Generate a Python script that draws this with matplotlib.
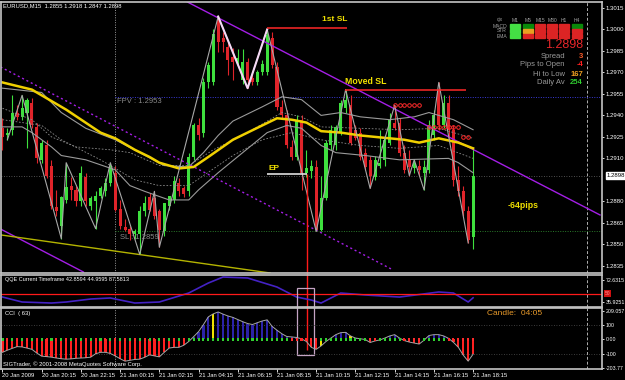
import matplotlib
matplotlib.use("Agg")
import matplotlib.pyplot as plt
from matplotlib.patches import Rectangle

# ── Candles: EURUSD M15, one bar every 15 min ────────────────────────────────
OPEN = [1.2931, 1.2926, 1.2930, 1.2942, 1.2939, 1.2942, 1.2949, 1.2932, 1.2909, 1.2919,
        1.2905, 1.2876, 1.2863, 1.2881, 1.2891, 1.2888, 1.2880, 1.2897, 1.2877, 1.2880,
        1.2884, 1.2887, 1.2893, 1.2900, 1.2875, 1.2862, 1.2861, 1.2857, 1.2857, 1.2873,
        1.2883, 1.2882, 1.2873, 1.2859, 1.2877, 1.2881, 1.2893, 1.2889, 1.2887, 1.2911,
        1.2933, 1.2928, 1.2963, 1.2963, 1.3007, 1.2994, 1.2988, 1.2981, 1.2977, 1.2965,
        1.2977, 1.2966, 1.2963, 1.2970, 1.2970, 1.2994, 1.2974, 1.2946, 1.2940, 1.2918,
        1.2911, 1.2937, 1.2900, 1.2901, 1.2904, 1.2860, 1.2882, 1.2919, 1.2919, 1.2928,
        1.2945, 1.2947, 1.2930, 1.2928, 1.2914, 1.2909, 1.2897, 1.2905, 1.2909, 1.2921,
        1.2935, 1.2935, 1.2914, 1.2909, 1.2903, 1.2905, 1.2900, 1.2902, 1.2926, 1.2958,
        1.2933, 1.2949, 1.2930, 1.2895, 1.2887, 1.2873, 1.2855]
HIGH = [1.2938, 1.2931, 1.2954, 1.2947, 1.2954, 1.2952, 1.2952, 1.2935, 1.2923, 1.2923,
        1.2909, 1.2888, 1.2884, 1.2907, 1.2897, 1.2891, 1.2905, 1.2900, 1.2884, 1.2887,
        1.2891, 1.2896, 1.2907, 1.2905, 1.2881, 1.2868, 1.2863, 1.2861, 1.2877, 1.2884,
        1.2886, 1.2887, 1.2875, 1.2861, 1.2884, 1.2898, 1.2896, 1.2891, 1.2914, 1.2935,
        1.2938, 1.2966, 1.2977, 1.3000, 1.3009, 1.2998, 1.2991, 1.2987, 1.2986, 1.2986,
        1.2980, 1.2969, 1.2972, 1.2979, 1.3000, 1.2998, 1.2977, 1.2951, 1.2944, 1.2923,
        1.2940, 1.2940, 1.2916, 1.2909, 1.2909, 1.2898, 1.2923, 1.2933, 1.2933, 1.2951,
        1.2958, 1.2954, 1.2933, 1.2931, 1.2917, 1.2912, 1.2912, 1.2930, 1.2926, 1.2942,
        1.2947, 1.2938, 1.2919, 1.2916, 1.2909, 1.2909, 1.2909, 1.2937, 1.2944, 1.2963,
        1.2954, 1.2954, 1.2933, 1.2905, 1.2891, 1.2877, 1.2918]
LOW = [1.2916, 1.2923, 1.2926, 1.2937, 1.2937, 1.2917, 1.2931, 1.2907, 1.2907, 1.2896,
       1.2875, 1.2870, 1.2854, 1.2879, 1.2881, 1.2877, 1.2877, 1.2877, 1.2874, 1.2861,
       1.2882, 1.2884, 1.2891, 1.2873, 1.2861, 1.2859, 1.2853, 1.2854, 1.2843, 1.2870,
       1.2873, 1.2868, 1.2848, 1.2856, 1.2874, 1.2879, 1.2884, 1.2883, 1.2884, 1.2909,
       1.2923, 1.2925, 1.2959, 1.2961, 1.2984, 1.2984, 1.2968, 1.2965, 1.2975, 1.2962,
       1.2959, 1.2961, 1.2961, 1.2968, 1.2968, 1.2973, 1.2944, 1.2938, 1.2917, 1.2909,
       1.2909, 1.2888, 1.2897, 1.2896, 1.2859, 1.2859, 1.2881, 1.2916, 1.2916, 1.2926,
       1.2942, 1.2919, 1.2923, 1.2909, 1.2902, 1.2889, 1.2895, 1.2903, 1.2905, 1.2919,
       1.2930, 1.2912, 1.2900, 1.2898, 1.2900, 1.2898, 1.2888, 1.2900, 1.2923, 1.2930,
       1.2931, 1.2923, 1.2891, 1.2884, 1.2870, 1.2851, 1.2847]
CLOSE = [1.2925, 1.2928, 1.2942, 1.2939, 1.2945, 1.2951, 1.2933, 1.2910, 1.2921, 1.2898,
         1.2877, 1.2873, 1.2883, 1.2890, 1.2888, 1.2880, 1.2900, 1.2880, 1.2882, 1.2884,
         1.2889, 1.2893, 1.2905, 1.2874, 1.2863, 1.2860, 1.2857, 1.2859, 1.2873, 1.2879,
         1.2874, 1.2870, 1.2860, 1.2879, 1.2884, 1.2894, 1.2887, 1.2885, 1.2911, 1.2933,
         1.2926, 1.2963, 1.2975, 1.2997, 1.2991, 1.2991, 1.2979, 1.2977, 1.2980, 1.2977,
         1.2965, 1.2963, 1.2970, 1.2976, 1.2996, 1.2975, 1.2946, 1.2940, 1.2919, 1.2911,
         1.2937, 1.2900, 1.2903, 1.2905, 1.2860, 1.2882, 1.2921, 1.2930, 1.2932, 1.2949,
         1.2951, 1.2921, 1.2924, 1.2911, 1.2904, 1.2898, 1.2909, 1.2907, 1.2923, 1.2937,
         1.2931, 1.2914, 1.2902, 1.2904, 1.2907, 1.2902, 1.2904, 1.2933, 1.2940, 1.2933,
         1.2949, 1.2930, 1.2895, 1.2887, 1.2873, 1.2853, 1.2898]

TIME_TICKS = [0, 8, 16, 24, 32, 40, 48, 56, 64, 72, 80, 88, 96]
TIME_LABELS = ["20 Jan 2009", "20 Jan 20:15", "20 Jan 22:15", "21 Jan 00:15",
               "21 Jan 02:15", "21 Jan 04:15", "21 Jan 06:15", "21 Jan 08:15",
               "21 Jan 10:15", "21 Jan 12:15", "21 Jan 14:15", "21 Jan 16:15",
               "21 Jan 18:15"]
PRICE_TICKS = [1.3015, 1.3000, 1.2985, 1.2970, 1.2955, 1.2940, 1.2925, 1.2910,
               1.2880, 1.2865, 1.2850, 1.2835]
BID = 1.2898

# ── Indicator lines (read at a few bars) ─────────────────────────────────────
MA_BAR = [0, 6, 8, 13, 20, 23, 27, 30, 32, 36, 39, 42, 47, 53, 56, 59, 62, 65, 69,
          73, 79, 82, 85, 89, 93, 96]
MA_VAL = [1.2963, 1.2958, 1.2954, 1.2944, 1.2928, 1.2924, 1.2916, 1.2911, 1.2907,
          1.2903, 1.2904, 1.2911, 1.2923, 1.2933, 1.2938, 1.2937, 1.2935, 1.2929,
          1.2928, 1.2926, 1.2924, 1.2923, 1.2921, 1.2924, 1.2921, 1.2917]
UP_BAR = [0, 8, 12, 17, 23, 28, 33, 38, 41, 44, 47, 53, 57, 61, 65, 69, 73, 79, 84,
          87, 92, 96]
UP_VAL = [1.2959, 1.2956, 1.2942, 1.2931, 1.2923, 1.2914, 1.2905, 1.2904, 1.2914,
          1.2926, 1.2936, 1.2946, 1.2953, 1.2951, 1.2940, 1.2942, 1.2939, 1.2937,
          1.2939, 1.2942, 1.2937, 1.2930]
LO_BAR = [0, 4, 6, 10, 12, 17, 23, 26, 29, 34, 38, 40, 44, 49, 54, 58, 61, 65, 68,
          74, 81, 91, 93, 96]
LO_VAL = [1.2932, 1.2932, 1.2928, 1.2918, 1.2912, 1.2909, 1.2902, 1.2891, 1.2887,
          1.2881, 1.2881, 1.2888, 1.2900, 1.2914, 1.2928, 1.2933, 1.2931, 1.2919,
          1.2914, 1.2912, 1.2909, 1.2910, 1.2907, 1.2900]
MID1_BAR = [0, 6, 10, 15, 22, 26, 32, 38, 43, 49, 52, 57, 61, 65, 73, 81, 89, 96]
MID1_VAL = [1.2945, 1.2937, 1.2925, 1.2918, 1.2916, 1.2914, 1.2905, 1.2905, 1.2916,
            1.2926, 1.2932, 1.2942, 1.2939, 1.2932, 1.2931, 1.2930, 1.2931, 1.2924]
MID2_BAR = [0, 8, 12, 20, 27, 32, 38, 41, 47, 53, 59, 65, 73, 81, 89, 96]
MID2_VAL = [1.2937, 1.2933, 1.2923, 1.2909, 1.2895, 1.2891, 1.2891, 1.2898, 1.2912,
            1.2923, 1.2928, 1.2923, 1.2919, 1.2917, 1.2919, 1.2910]
ZZ_BAR = [1, 4, 12, 13, 19, 22, 28, 31, 32, 44, 50, 54, 64, 70, 75, 80, 83, 84, 86,
          89, 95]
ZZ_VAL = [1.2923, 1.2954, 1.2854, 1.2907, 1.2861, 1.2907, 1.2843, 1.2887, 1.2848,
          1.3009, 1.2959, 1.3000, 1.2859, 1.2958, 1.2889, 1.2947, 1.2898, 1.2909,
          1.2888, 1.2963, 1.2851]
M_BAR = [44, 50, 54]
M_VAL = [1.3009, 1.2959, 1.3000]

# trend lines (anchor bar, anchor price)
TL_MAIN = ([37.7, 121.9], [1.30192, 1.28705])
TL_DOT = ([-0.4, 79.7], [1.29738, 1.28321])
TL_LOW = ([-0.4, 16.5], [1.28607, 1.28307])
TL_OLIVE = ([-0.4, 54.6], [1.28566, 1.28300])

FIRST_SL = (1.3001, 54, 70.3)
MOVED_SL = (1.2958, 69.9, 94.6)
EP = (1.2899, 54, 62.2)
FPV = 1.2953
SL = 1.2859
SEP_BAR = 23.0
FUTURE_BAR = 119.2

RING_BAR = [80, 81, 82, 83, 84, 85, 87, 88, 89, 90, 91, 92, 93, 94, 95]
RING_VAL = [1.2947] * 6 + [1.2932] * 7 + [1.2925] * 2

# ── QQE and CCI ──────────────────────────────────────────────────────────────
QQE_BAR = [0, 4, 10, 13, 18, 22, 27, 32, 38, 42, 45, 50, 56, 60, 63, 65, 69, 74, 81,
           89, 92, 95, 96]
QQE_VAL = [44.2, 35.9, 34.2, 35.9, 40.9, 42.6, 34.2, 35.9, 50.9, 67.6, 77.6, 76.0,
           60.9, 44.2, 39.2, 34.2, 50.9, 47.6, 44.2, 52.6, 50.9, 35.9, 42.9]
CCI = [-90, -75, -62, -50, -52, -60, -69, -95, -117, -120,
       -124, -130, -135, -138, -136, -132, -130, -128, -124, -100,
       -90, -90, -98, -115, -135, -152, -146, -140, -138, -125,
       -108, -115, -122, -90, -60, -55, -55, -40, -14, 20,
       55, 105, 159, 180, 193, 178, 165, 155, 140, 125,
       112, 105, 118, 130, 138, 92, 65, 40, 21, 18,
       14, 5, -14, -55, -69, -45, -14, 10, 34, 48,
       50, 25, 10, 5, 0, -21, -10, -3, 10, 25,
       34, 10, -8, -18, -25, -32, -5, 28, 34, 34,
       25, 8, -20, -55, -110, -152, -103]
CCI_FLAG = [43, 65, 71, 86]
ZERO_DOTS = ("GRGRGRGRGRGRGRGRGRGRGRGRGRGRGRGRGRGRGR" + "GGGGGGGGGGGGGGGGGGGGG"
             + "RRRRRR" + "GGGGGGGGGG" + "RR" + "GGGGG" + "RRRR" + "GGGGG" + "RRRRRR")

# ── Info panel ───────────────────────────────────────────────────────────────
TF_COLS = ["M1", "M5", "M15", "M30", "H1", "H4"]
SIG_ROWS = ["MACD", "STR", "EMA"]
SIG_STATE = [["L", "D", "R", "R", "R", "D"],
             ["L", "O", "R", "R", "R", "R"],
             ["L", "R", "R", "R", "R", "R"]]
STATS = [("Spread", "3", "#ff5a28"), ("Pips to Open", "-4", "#ff2020"),
         ("Hi to Low", "167", "#f0a020"), ("Daily Av", "254", "#30d030")]

# ── Figure ───────────────────────────────────────────────────────────────────
W, H = 625, 380
plt.rcParams["font.family"] = ["Liberation Sans", "DejaVu Sans"]
GREEN, RED = "#3ee03e", "#e0242a"
PURPLE = "#a41ee6"

fig = plt.figure(figsize=(W / 100, H / 100), dpi=100, facecolor="black")


def panel(top, bottom, face="black"):
    ax = fig.add_axes([1 / W, 1 - bottom / H, 601 / W, (bottom - top) / H])
    ax.set_facecolor(face)
    for s in ax.spines.values():
        s.set_color("#c4c4c4")
        s.set_linewidth(1.2)
        s.set_zorder(10)
    ax.set_xlim(-0.3, 122.3)
    ax.set_xticks([])
    ax.yaxis.tick_right()
    ax.tick_params(axis="y", colors="white", labelsize=4.3, length=1.5,
                   width=0.6, pad=1.2)
    return ax


# main price panel
ax = panel(1.5, 273)
ax.set_ylim(1.28300, 1.30195)
n = len(OPEN)
xs = list(range(n))
cols = [GREEN if c >= o else RED for o, c in zip(OPEN, CLOSE)]
ax.vlines(xs, LOW, HIGH, colors=cols, lw=0.8, zorder=3)
bodies = [max(abs(c - o), 0.00008) for o, c in zip(OPEN, CLOSE)]
ax.bar(xs, bodies, bottom=[min(o, c) for o, c in zip(OPEN, CLOSE)],
       width=0.62, color=cols, lw=0, zorder=3)

ax.plot(UP_BAR, UP_VAL, color="#9a9a9a", lw=0.8, zorder=4)
ax.plot(LO_BAR, LO_VAL, color="#9a9a9a", lw=0.8, zorder=4)
ax.plot(MID1_BAR, MID1_VAL, color="#8a8a8a", lw=0.6, ls=(0, (2, 2)), zorder=4)
ax.plot(MID2_BAR, MID2_VAL, color="#8a8a8a", lw=0.6, ls=(0, (2, 2)), zorder=4)
ax.plot(MA_BAR, MA_VAL, color="#f0d000", lw=1.8, zorder=5)
ax.plot(ZZ_BAR, ZZ_VAL, color="#a8a8a8", lw=0.8, zorder=5)
ax.plot(M_BAR, M_VAL, color="#f4d8f4", lw=1.5, zorder=6)

ax.plot(*TL_MAIN, color=PURPLE, lw=1.0, zorder=4)
ax.plot(*TL_DOT, color=PURPLE, lw=1.0, ls=(0, (1.5, 2)), zorder=4)
ax.plot(*TL_LOW, color=PURPLE, lw=1.0, zorder=4)
ax.plot(*TL_OLIVE, color="#b4b400", lw=1.0, zorder=4)

ax.axhline(BID, color="#6a6a6a", lw=0.6, ls=(0, (1, 2)), zorder=2)
ax.hlines(FPV, SEP_BAR, 122.3, color="#3a3ad8", lw=0.7, ls=(0, (1, 1.5)), zorder=2)
ax.hlines(SL, SEP_BAR, 122.3, color="#2a7a2a", lw=0.7, ls=(0, (1, 1.5)), zorder=2)
ax.text(SEP_BAR + 0.4, FPV - 0.0003, "FPV : 1.2953", color="#8a8a8a",
        fontsize=5.5, va="center")
ax.text(SEP_BAR + 1.0, SL - 0.0004, "SL : 1.2859", color="#8a8a8a",
        fontsize=5.5, va="center", zorder=7)

ax.hlines(FIRST_SL[0], FIRST_SL[1], FIRST_SL[2], color="#ff2828", lw=1.1, zorder=6)
ax.text(65.2, 1.3007, "1st SL", color="#f0e000", fontsize=6, weight="bold",
        va="center")
ax.hlines(MOVED_SL[0], MOVED_SL[1], MOVED_SL[2], color="#ff2828", lw=1.1, zorder=6)
ax.text(69.9, 1.2964, "Moved SL", color="#f0e000", fontsize=6.3, weight="bold",
        va="center")
ax.hlines(EP[0], EP[1], EP[2], color="#e0e0e0", lw=1.2, zorder=6)
ax.text(54.2, 1.2903, "EP", color="#f0e000", fontsize=6, weight="bold", va="center")
ax.text(103.1, 1.2877, "-64pips", color="#f0e000", fontsize=6.3, weight="bold",
        va="center")
ax.plot(RING_BAR, RING_VAL, ls="none", marker="o", ms=2.6, mfc="none",
        mec="#ff2a2a", mew=0.7, zorder=7)

ax.set_yticks(PRICE_TICKS)
ax.set_yticklabels([f"{p:.4f}" for p in PRICE_TICKS])
ax.text(1.0075, BID, f"{BID:.4f}", transform=ax.get_yaxis_transform(),
        fontsize=4.3, color="black", va="center", ha="left", clip_on=False,
        bbox=dict(fc="white", ec="white", pad=0.6))
ax.text(0.0035, 0.983, "EURUSD,M15  1.2855 1.2918 1.2847 1.2898",
        transform=ax.transAxes, color="white", fontsize=4.2, va="center")

# QQE panel
aq = panel(274.5, 306.5, face="none")
aq.set_ylim(28.4, 81.8)
aq.plot(QQE_BAR, QQE_VAL, color="#4422c4", lw=1.2)
aq.axhline(50, color="#ff1a1a", lw=0.9)
aq.set_yticks([72.6315, 35.9251])
aq.set_yticklabels(["72.6315", "35.9251"])
aq.tick_params(axis="y", labelsize=3.8)
aq.text(1.004, 50, "50", transform=aq.get_yaxis_transform(), fontsize=3.5,
        color="#ff9090", va="center", ha="left", clip_on=False,
        bbox=dict(fc="#d01010", ec="none", pad=0.6))
aq.text(0.006, 0.83, "QQE Current Timeframe 42.8594 44.9595 87.5813",
        transform=aq.transAxes, color="white", fontsize=4, va="center")
aq.add_patch(Rectangle((60.1, -52.6), 3.5, 111.9, fill=False, ec="#c4a4c4",
                       lw=0.9, clip_on=False, zorder=8))

# CCI panel
ac = panel(308, 369, face="none")
ac.set_ylim(-207, 221)
bar_cols = []
for i, v in enumerate(CCI):
    if i in CCI_FLAG:
        bar_cols.append("#f0e000")
    elif v > 0:
        bar_cols.append("#2c22a8")
    else:
        bar_cols.append("#ff2020")
ac.bar(xs, CCI, width=0.45, color=bar_cols, lw=0, zorder=2)
ac.plot(xs, CCI, color="#a6a6a6", lw=0.7, zorder=3)
ac.axhline(100, color="#505050", lw=0.6, ls=(0, (1, 2)), zorder=1)
ac.axhline(-100, color="#505050", lw=0.6, ls=(0, (1, 2)), zorder=1)
ac.scatter(xs, [0] * n, marker="s", s=2.2, lw=0, zorder=4,
           c=["#30d030" if d == "G" else "#ff2a2a" for d in ZERO_DOTS])
ac.set_yticks([200, 100, 0, -100, -200])
ac.set_yticklabels(["209.057", "100", "0.00", "-100", "-203.77"])
ac.tick_params(axis="y", labelsize=3.8)
ac.text(0.006, 0.918, "CCI  ( 63)", transform=ac.transAxes, color="white",
        fontsize=4.2, va="center")
ac.text(0.809, 0.918, "Candle:  04:05", transform=ac.transAxes, color="#e89a2a",
        fontsize=6, va="center")
ac.text(0.004, 0.082, "SIGTrader, \u00a9 2001-2008 MetaQuotes Software Corp.",
        transform=ac.transAxes, color="white", fontsize=4.2, va="center")
ac.set_xticks(TIME_TICKS)
ac.set_xticklabels(TIME_LABELS)
ac.tick_params(axis="x", colors="white", labelsize=4.2, length=2, width=0.6, pad=1)
for lbl in ac.get_xticklabels():
    lbl.set_ha("left")

# EP vertical marker and time separators running through every panel
ax.vlines(EP[2], 1.27763, EP[0], color="#ff1a1a", lw=1.0, clip_on=False, zorder=9)
for a in (ax, aq, ac):
    a.axvline(SEP_BAR, color="#9a9a9a", lw=0.7, ls=(0, (1, 1.5)), zorder=1)
    a.axvline(FUTURE_BAR, color="#b0b0b0", lw=0.7, ls=(0, (3, 2)), zorder=1)

# info panel (top right)
STATE_COL = {"L": "#44e044", "D": "#0a8a0a", "R": "#dc2424", "O": "#e8a020"}
COL_X = [515, 528, 540, 552, 564, 577]
ROW_Y = [26, 31, 36]
fig.text(500 / W, 1 - 20 / H, "cjx", color="#a0a0a0", fontsize=3.6,
         ha="center", va="center")
for cx, tf in zip(COL_X, TF_COLS):
    fig.text(cx / W, 1 - 20 / H, tf, color="#a0a0a0", fontsize=3.6,
             ha="center", va="center")
for ry, name, states in zip(ROW_Y, SIG_ROWS, SIG_STATE):
    fig.text(507 / W, 1 - ry / H, name, color="#a0a0a0", fontsize=3.6,
             ha="right", va="center")
    for cx, st in zip(COL_X, states):
        fig.patches.append(Rectangle(((cx - 5) / W, 1 - (ry + 1.8) / H),
                                     10 / W, 3.6 / H, color=STATE_COL[st],
                                     transform=fig.transFigure, figure=fig))
fig.text(583 / W, 1 - 45 / H, "1.2898", color="#e8262a", fontsize=9,
         ha="right", va="center")
for k, (name, val, c) in enumerate(STATS):
    y = 1 - (56 + 9 * k) / H
    fig.text(565 / W, y, name, color="#9a9a9a", fontsize=5.5, ha="right", va="center")
    fig.text(583 / W, y, val, color=c, fontsize=5.5, weight="bold",
             ha="right", va="center")

fig.savefig("out.png", dpi=100, facecolor="black")
